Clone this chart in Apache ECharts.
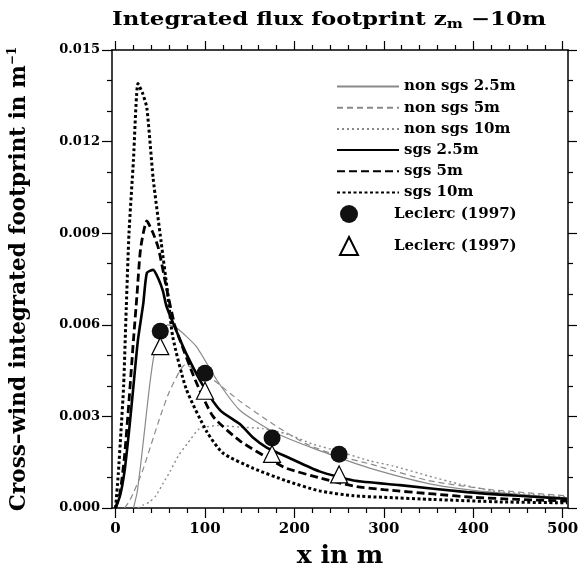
<!DOCTYPE html>
<html><head><meta charset="utf-8">
<script src="https://cdn.jsdelivr.net/npm/echarts@6/dist/echarts.min.js"></script>
<style>html,body{margin:0;padding:0;background:#fff}#c{width:579px;height:569px}</style>
</head><body><div id="c"></div>
<script>
// ---- data ----
const seriesNames = ['non sgs 2.5m','non sgs 5m','non sgs 10m','sgs 2.5m','sgs 5m','sgs 10m'];
const ns25x = [20,24,28,33,38,43,50,58,68,90,113,139,176,217,250,285,350,400,450,505];
const ns25y = [0,0.0005,0.0014,0.0027,0.0040,0.0050,0.0056,0.0060,0.0059,0.0053,0.0042,0.0032,0.0025,0.0020,0.00165,0.0013,0.0008,0.00058,0.00045,0.00033];
const ns5x = [10,15,20,30,40,50,60,72,78,90,109,139,176,213,250,285,350,420,505];
const ns5y = [0,0.0002,0.0005,0.0012,0.0021,0.0030,0.0038,0.0045,0.0047,0.0045,0.0042,0.0035,0.00275,0.0021,0.0017,0.00144,0.0009,0.0006,0.0004];
const ns10x = [25,31,38,45,53,61,70,80,94,115,139,165,191,220,250,285,310,350,385,422,460,505];
const ns10y = [0,0.0001,0.0002,0.0004,0.0008,0.0012,0.0017,0.0021,0.0026,0.0027,0.00265,0.0026,0.00243,0.0021,0.00185,0.00154,0.00138,0.00105,0.00078,0.00056,0.00045,0.00036];
const s25x = [0,5,10,15,20,25,31,35,42,48,53,57,68,80,98,117,139,154,169,195,228,266,318,393,450,505];
const s25y = [0,0.0004,0.0012,0.0025,0.0040,0.0055,0.0067,0.0077,0.0078,0.0075,0.0071,0.0066,0.0058,0.0050,0.0040,0.0032,0.00275,0.0023,0.00198,0.00163,0.0012,0.0009,0.00075,0.00052,0.0004,0.0003];
const s5x = [0,5,10,15,20,24,28,35,42,48,57,66,72,89,109,139,176,191,228,266,300,355,400,450,505];
const s5y = [0,0.0005,0.0017,0.0035,0.0055,0.0070,0.0085,0.0094,0.0090,0.0085,0.0072,0.0060,0.0055,0.0042,0.0030,0.0022,0.00154,0.0013,0.00099,0.00072,0.0006,0.00046,0.00035,0.00028,0.00023];
const s10x = [0,3,6,9,12,15,20,25,30,35,42,51,58,64,79,102,120,154,191,228,266,300,355,430,505];
const s10y = [0,0.0011,0.0025,0.0040,0.0066,0.0090,0.0114,0.0139,0.0136,0.0131,0.0108,0.0087,0.0071,0.0056,0.0039,0.0025,0.0018,0.0013,0.00089,0.00056,0.0004,0.00035,0.00028,0.0002,0.00017];
const leclercX = [50,100,175,250];
const leclercCircleY = [0.00579,0.00441,0.00229,0.00176];
const leclercTriY = [0.0053,0.00384,0.00177,0.0011];
const xMajor = [0,100,200,300,400,500];
const xMinor = [20,40,60,80,120,140,160,180,220,240,260,280,320,340,360,380,420,440,460,480];

const zip = (xs, ys) => xs.map((x, i) => [x, ys[i]]);
const F = 'DejaVu Serif';
const chart = echarts.init(document.getElementById('c'));
const gray = '#8a8a8a';
const lineS = (name, xs, ys, color, width, type, z) => ({
  name, type: 'line', data: zip(xs, ys), showSymbol: false, symbol: 'none', smooth: 0.2,
  lineStyle: { color, width, type }, itemStyle: { color }, z: z || 2
});
const xAx = (pos, vals, len, show, label) => ({
  type: 'value', position: pos, min: -4, max: 506,
  axisLine: { show: show, onZero: false, lineStyle: { color: '#000', width: 1.5 } },
  splitLine: { show: false },
  axisTick: { show: true, inside: false, length: len, customValues: vals, lineStyle: { color: '#000', width: 1.2 } },
  axisLabel: label ? { show: true, customValues: xMajor, margin: 14, color: '#000', fontFamily: F, fontWeight: 'bold', fontSize: 15 } : { show: false },
});
const option = {
  backgroundColor: '#fff',
  animation: false,
  graphic: [{
    type: 'text', x: 112, y: 10, scaleX: 1.27,
    style: {
      text: '{a|Integrated flux footprint z}{s|m}{a| \u221210m}',
      rich: {
        a: { fontFamily: F, fontWeight: 'bold', fontSize: 18, fill: '#000', color: '#000' },
        s: { fontFamily: F, fontWeight: 'bold', fontSize: 12, fill: '#000', color: '#000', verticalAlign: 'bottom', padding: [9,0,0,0] }
      }
    }
  }],
  grid: { left: 112, right: 11, top: 50, bottom: 61, outerBoundsMode: 'none', containLabel: false },
  xAxis: [
    Object.assign(xAx('bottom', xMajor, 10, true, true), {
      name: 'x in m', nameLocation: 'middle', nameGap: 36,
      nameTextStyle: { fontFamily: F, fontWeight: 'bold', fontSize: 25, color: '#000' }
    }),
    xAx('bottom', xMinor, 5, false, false),
    xAx('top', xMajor, 9, true, false),
    xAx('top', xMinor, 5, false, false)
  ],
  yAxis: [
    {
      type: 'value', position: 'left', min: 0, max: 0.015, interval: 0.003,
      axisLine: { show: true, onZero: false, lineStyle: { color: '#000', width: 1.5 } },
      splitLine: { show: false },
      axisTick: { show: true, length: 10, lineStyle: { color: '#000', width: 1.2 } },
      minorTick: { show: true, splitNumber: 3, length: 5, lineStyle: { color: '#000', width: 1.2 } },
      axisLabel: { margin: 12, color: '#000', fontFamily: F, fontWeight: 'bold', fontSize: 13, formatter: v => v.toFixed(3) },
      name: '{a|Cross\u2013wind integrated footprint in m}{s|\u22121}',
      nameLocation: 'middle', nameGap: 80, nameRotate: 90,
      nameTextStyle: { rich: {
        a: { fontFamily: F, fontWeight: 'bold', fontSize: 21.5, color: '#000' },
        s: { fontFamily: F, fontWeight: 'bold', fontSize: 12, color: '#000', verticalAlign: 'top', padding: [0,0,13,0] }
      } }
    },
    {
      type: 'value', position: 'right', min: 0, max: 0.015, interval: 0.003,
      axisLine: { show: true, onZero: false, lineStyle: { color: '#000', width: 1.5 } },
      splitLine: { show: false },
      axisTick: { show: true, length: 9, lineStyle: { color: '#000', width: 1.2 } },
      minorTick: { show: true, splitNumber: 3, length: 5, lineStyle: { color: '#000', width: 1.2 } },
      axisLabel: { show: false }
    }
  ],
  legend: [
    {
      data: seriesNames, orient: 'vertical', left: 336, top: 79, padding: 0,
      itemWidth: 62, itemHeight: 14, itemGap: 6.2,
      itemStyle: { opacity: 0 },
      textStyle: { fontFamily: F, fontWeight: 'bold', fontSize: 15, color: '#000', lineHeight: 14 }
    },
    {
      data: ['Leclerc (1997)', 'Leclerc (1997) '], orient: 'vertical', left: 339, top: 205, padding: 0,
      itemWidth: 18, itemHeight: 18, itemGap: 13,
      textStyle: { fontFamily: F, fontWeight: 'bold', fontSize: 15, color: '#000', padding: [0, 0, 0, 31] }
    }
  ],
  series: [
    lineS('non sgs 2.5m', ns25x, ns25y, gray, 1.2, 'solid'),
    lineS('non sgs 5m', ns5x, ns5y, gray, 1.2, [6, 4]),
    lineS('non sgs 10m', ns10x, ns10y, gray, 1.4, [2, 3]),
    lineS('sgs 2.5m', s25x, s25y, '#000', 2.6, 'solid', 3),
    lineS('sgs 5m', s5x, s5y, '#000', 2.8, [8, 4], 3),
    lineS('sgs 10m', s10x, s10y, '#000', 3, [3, 2.5], 3),
    { name: 'Leclerc (1997)', type: 'scatter', data: zip(leclercX, leclercCircleY), symbol: 'circle', symbolSize: 17,
      itemStyle: { color: '#111', opacity: 1 }, z: 5 },
    { name: 'Leclerc (1997) ', type: 'scatter', data: zip(leclercX, leclercTriY), symbol: 'triangle', symbolSize: 17,
      itemStyle: { color: '#fff', borderColor: '#000', borderWidth: 1.2, opacity: 1 }, z: 5 }
  ]
};
chart.setOption(option);
</script></body></html>
